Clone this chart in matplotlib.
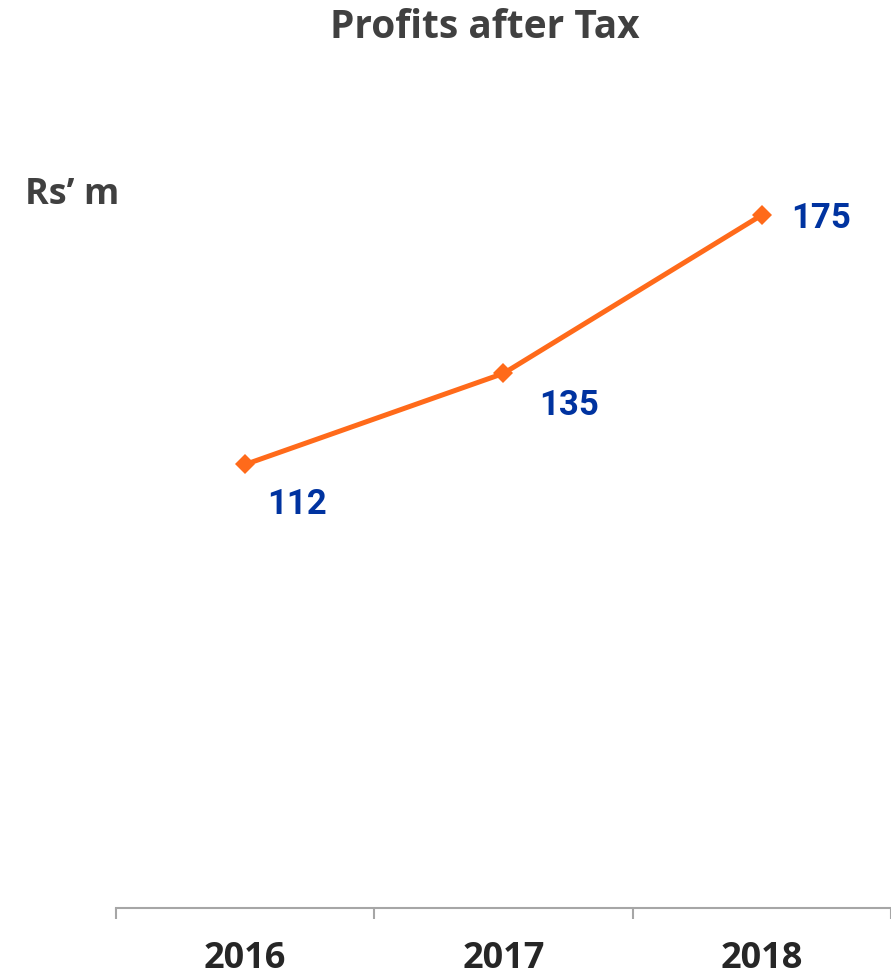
import matplotlib.pyplot as plt
import numpy as np

years = ["2016", "2017", "2018"]
profits = [112, 135, 175]
# label offsets in pixels (dx, dy) relative to each point
label_offsets = [(52, -40), (66, -32), (59, -4)]

narrow = ["Open Sans", "DejaVu Sans"]

fig = plt.figure(figsize=(8.91, 9.80), dpi=100)
ax = fig.add_axes([116 / 891, 72 / 980, 775 / 891, 792 / 980])

x = np.arange(len(years))
ax.plot(x, profits, color="#FF6A1A", linewidth=3.6, marker="D", markersize=10,
        markeredgewidth=0, zorder=3)

for xi, v, (dx, dy) in zip(x, profits, label_offsets):
    ax.annotate(str(v), (xi, v), xytext=(dx * 0.72, dy * 0.72),
                textcoords="offset points", ha="center", va="center",
                fontsize=25, fontweight="bold", color="#0033A0",
                family=["Roboto", "DejaVu Sans"])

ax.set_xlim(-0.5, 2.5)
ax.set_ylim(0, 200)
ax.set_yticks([])
for s in ["top", "right", "left"]:
    ax.spines[s].set_visible(False)
ax.spines["bottom"].set_color("#A6A6A6")
ax.spines["bottom"].set_linewidth(1.5)

ax.set_xticks([-0.5, 0.5, 1.5, 2.5])
ax.set_xticklabels([])
ax.set_xticks(x, minor=True)
ax.set_xticklabels(years, minor=True, fontsize=26, fontweight="bold",
                   color="#262626", family=narrow)
ax.tick_params(axis="x", which="major", length=8, width=1.5, color="#A6A6A6")
ax.tick_params(axis="x", which="minor", length=0, pad=24)

fig.text(485 / 891, 1 - 28 / 980, "Profits after Tax", ha="center", va="center",
         fontsize=28, fontweight="bold", color="#404040", family=narrow)
fig.text(25 / 891, 1 - 195 / 980, "Rs’ m", ha="left", va="center",
         fontsize=26, fontweight="bold", color="#404040", family=narrow)

fig.savefig("out.png", dpi=100)
